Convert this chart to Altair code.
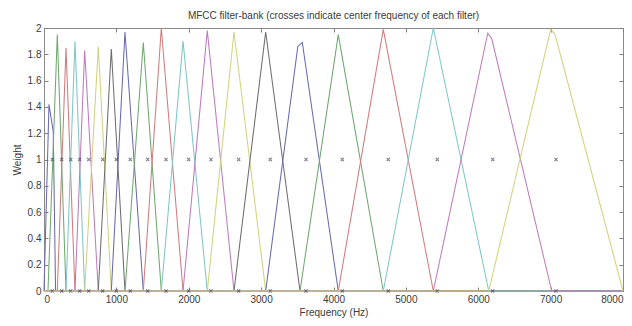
import altair as alt
import pandas as pd

# ---- data ----
filter_names = [f"F{i:02d}" for i in range(1, 21)]
start_hz = [0, 55, 184, 304, 428, 562, 750, 930, 1119, 1372, 1621, 1921, 2256, 2625, 3063, 3537, 4066, 4688, 5379, 6145]
peak_hz = [69, 184, 304, 428, 562, 750, 930, 1119, 1372, 1621, 1921, 2256, 2625, 3063, 3569, 4066, 4688, 5379, 6131, 7001]
peak_w = [1.42, 1.95, 1.85, 1.90, 1.83, 1.86, 1.84, 1.97, 1.89, 2.00, 1.90, 1.98, 1.97, 1.97, 1.89, 1.95, 1.99, 2.00, 1.96, 1.99]
end_hz = [160, 304, 428, 562, 750, 930, 1119, 1372, 1621, 1921, 2256, 2625, 3063, 3537, 4066, 4688, 5379, 6145, 7015, 8000]
# extra knots where a filter is not a clean triangle
knot_filter = [1, 15, 19, 20]
knot_hz = [128, 3507, 6186, 7061]
knot_w = [1.21, 1.86, 1.92, 1.95]

center_hz = [115, 245, 369, 493, 618, 811, 999, 1192, 1433, 1686, 1999, 2307, 2690, 3127, 3620, 4122, 4757, 5434, 6200, 7074]
cross_levels = [1, 0]

x_ticks = [0, 1000, 2000, 3000, 4000, 5000, 6000, 7000, 8000]
y_ticks = [0, 0.2, 0.4, 0.6, 0.8, 1, 1.2, 1.4, 1.6, 1.8, 2]

# ---- style ----
matlab_cycle = ["#6a6ab0", "#70a870", "#d07c7c", "#80c6c6", "#be7cbe", "#d2d27e", "#6e6e6e"]
line_colors = [matlab_cycle[i % 7] for i in range(20)]
FONT = "Liberation Sans"
TXT = "#3a3a3a"
TICK = "#808080"

rows = []
for i, name in enumerate(filter_names):
    pts = [(0.0, 0.0), (start_hz[i], 0.0), (peak_hz[i], peak_w[i])]
    for f, h, w in zip(knot_filter, knot_hz, knot_w):
        if f == i + 1:
            pts.append((h, w))
    pts += [(end_hz[i], 0.0), (8000.0, 0.0)]
    pts = sorted(pts, key=lambda p: p[0])
    for k, (h, w) in enumerate(pts):
        rows.append({"filt": name, "k": k, "hz": h, "w": w})
lines_df = pd.DataFrame(rows)

cross_df = pd.DataFrame(
    [{"hz": c, "w": lv} for lv in cross_levels for c in center_hz]
)

xs = alt.Scale(domain=[0, 8000], nice=False, zero=False)
ys = alt.Scale(domain=[0, 2], nice=False, zero=False)

x_bottom = alt.Axis(values=x_ticks, format="d", offset=-4, tickSize=4, domain=False,
                    grid=False, labelPadding=3, labelFontSize=10, labelFont=FONT,
                    labelColor=TXT, tickColor=TICK, title="Frequency (Hz)",
                    titleFont=FONT, titleFontSize=10, titleFontWeight="normal",
                    titleColor=TXT, titleY=28, titleBaseline="alphabetic",
                    labelOverlap=False, labelBound=False)
y_left = alt.Axis(values=y_ticks, format=".1~f", offset=-4, tickSize=4, domain=False,
                  grid=False, labelPadding=3, labelFontSize=10, labelFont=FONT,
                  labelColor=TXT, tickColor=TICK, title="Weight",
                  titleFont=FONT, titleFontSize=10, titleFontWeight="normal",
                  titleColor=TXT, titlePadding=5)
x_top = alt.Axis(values=x_ticks, orient="top", offset=-4, tickSize=4, domain=False,
                 grid=False, labels=False, title=None, tickColor=TICK)
y_right = alt.Axis(values=y_ticks, orient="right", offset=-4, tickSize=4, domain=False,
                   grid=False, labels=False, title=None, tickColor=TICK)

lines = alt.Chart(lines_df).mark_line(strokeWidth=1.05).encode(
    x=alt.X("hz:Q", scale=xs, axis=x_bottom),
    y=alt.Y("w:Q", scale=ys, axis=y_left),
    color=alt.Color("filt:N", scale=alt.Scale(domain=filter_names, range=line_colors), legend=None),
    order=alt.Order("k:Q"),
)

crosses = alt.Chart(cross_df).mark_point(
    shape="M-1,-1L1,1M1,-1L-1,1", size=10, strokeWidth=1.1, color="#4a4a66", filled=False
).encode(
    x=alt.X("hz:Q", scale=xs, axis=x_top),
    y=alt.Y("w:Q", scale=ys, axis=y_right),
)

chart = alt.layer(lines, crosses).resolve_axis(x="independent", y="independent").properties(
    width=579,
    height=263,
    padding={"left": 36, "top": 20, "right": 1, "bottom": 27},
    autosize=alt.AutoSizeParams(type="none"),
    title=alt.Title(
        "MFCC filter-bank (crosses indicate center frequency of each filter)",
        font=FONT, fontSize=10, fontWeight="normal", color=TXT, offset=2, anchor="middle",
    ),
    background="white",
).configure_view(stroke="#8a8a8a", strokeWidth=1)

chart.save("out.html", embed_options={"renderer": "svg", "actions": False})
